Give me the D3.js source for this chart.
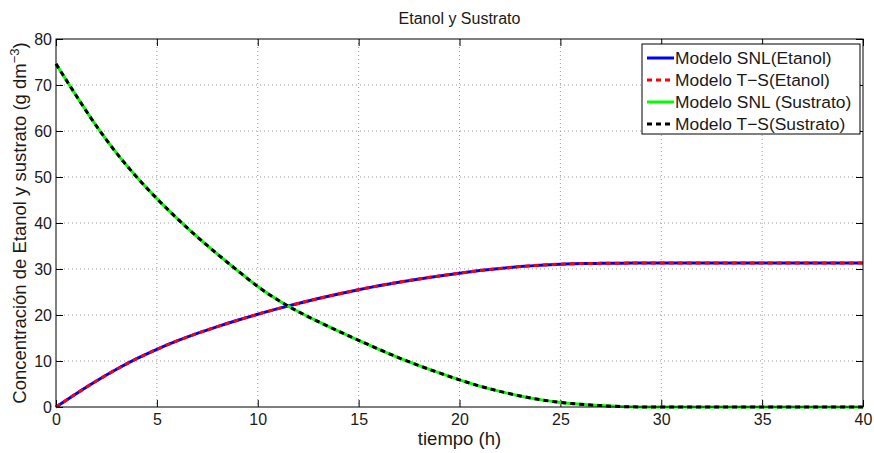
<!DOCTYPE html>
<html>
<head>
<meta charset="utf-8">
<script src="https://cdn.jsdelivr.net/npm/d3@7"></script>
<style>
  body { margin: 0; background: #fff; }
  svg { font-family: "Liberation Sans", Arial, sans-serif; }
  .tick-label { font-size: 16px; fill: #1a1a1a; }
  .axis-title { font-size: 18.5px; fill: #1a1a1a; }
  .chart-title { font-size: 16px; fill: #1a1a1a; }
  .legend-text { font-size: 17.4px; fill: #1a1a1a; }
</style>
</head>
<body>
<svg id="chart"></svg>
<script>
// tiempo (h)
const tiempo = [0, 1, 2, 3, 4, 5, 6, 7, 8, 9, 10, 11, 12, 13, 14, 15, 16, 17, 18, 19, 20,
  21, 22, 23, 24, 25, 26, 27, 28, 29, 30, 35, 40];

const etanolSNL = [0, 2.9, 5.65, 8.2, 10.5, 12.55, 14.37, 16.0, 17.48, 18.86, 20.16, 21.38,
  22.51, 23.57, 24.56, 25.5, 26.36, 27.13, 27.84, 28.49, 29.1, 29.65, 30.12, 30.52, 30.84,
  31.05, 31.17, 31.23, 31.27, 31.29, 31.3, 31.3, 31.3];
const etanolTS = [0, 2.9, 5.65, 8.2, 10.5, 12.55, 14.37, 16.0, 17.48, 18.86, 20.16, 21.38,
  22.51, 23.57, 24.56, 25.5, 26.36, 27.13, 27.84, 28.49, 29.1, 29.65, 30.12, 30.52, 30.84,
  31.05, 31.17, 31.23, 31.27, 31.29, 31.3, 31.3, 31.3];

const sustratoSNL = [74.6, 67.7, 61.1, 55.2, 50.0, 45.3, 41.0, 37.0, 33.25, 29.65, 26.2, 23.25,
  20.75, 18.55, 16.5, 14.5, 12.55, 10.7, 9.0, 7.4, 5.9, 4.55, 3.4, 2.4, 1.6, 1.0, 0.6, 0.3,
  0.1, 0.02, 0, 0, 0];
const sustratoTS = [74.6, 67.7, 61.1, 55.2, 50.0, 45.3, 41.0, 37.0, 33.25, 29.65, 26.2, 23.25,
  20.75, 18.55, 16.5, 14.5, 12.55, 10.7, 9.0, 7.4, 5.9, 4.55, 3.4, 2.4, 1.6, 1.0, 0.6, 0.3,
  0.1, 0.02, 0, 0, 0];

const xTicks = [0, 5, 10, 15, 20, 25, 30, 35, 40];
const yTicks = [0, 10, 20, 30, 40, 50, 60, 70, 80];

const seriesNames = ['Modelo SNL(Etanol)', 'Modelo T\u2212S(Etanol)', 'Modelo SNL (Sustrato)', 'Modelo T\u2212S(Sustrato)'];
const seriesColors = ['#0000ff', '#ff0000', '#00ff00', '#000000'];
const seriesDashed = [false, true, false, true];
const seriesValues = [etanolSNL, etanolTS, sustratoSNL, sustratoTS];

const width = 874, height = 453;
const margin = {top: 39, right: 11, bottom: 46, left: 56};
const w = width - margin.left - margin.right;
const h = height - margin.top - margin.bottom;

const svg = d3.select('#chart')
  .attr('width', width)
  .attr('height', height);

const chart = svg.append('g')
  .attr('transform', `translate(${margin.left},${margin.top})`);

const xScale = d3.scaleLinear().domain([0, 40]).range([0, w]);
const yScale = d3.scaleLinear().domain([0, 80]).range([h, 0]);

// grid
chart.append('g')
  .selectAll('line')
  .data(xTicks.slice(1, -1))
  .join('line')
  .attr('x1', d => xScale(d)).attr('x2', d => xScale(d))
  .attr('y1', 0).attr('y2', h)
  .attr('stroke', '#9a9a9a').attr('stroke-width', 1)
  .attr('stroke-dasharray', '1,3');

chart.append('g')
  .selectAll('line')
  .data(yTicks.slice(1, -1))
  .join('line')
  .attr('x1', 0).attr('x2', w)
  .attr('y1', d => yScale(d)).attr('y2', d => yScale(d))
  .attr('stroke', '#9a9a9a').attr('stroke-width', 1)
  .attr('stroke-dasharray', '1,3');

// axes (MATLAB style: ticks inside, mirrored)
const tickLen = 7;
const xAxis = d3.axisBottom(xScale).tickValues(xTicks).tickSize(-tickLen).tickPadding(7).tickSizeOuter(0);
const yAxis = d3.axisLeft(yScale).tickValues(yTicks).tickSize(-tickLen).tickPadding(4).tickSizeOuter(0);
const xAxisTop = d3.axisTop(xScale).tickValues(xTicks).tickSize(-tickLen).tickFormat('').tickSizeOuter(0);
const yAxisRight = d3.axisRight(yScale).tickValues(yTicks).tickSize(-tickLen).tickFormat('').tickSizeOuter(0);

function styleAxis(g) {
  g.select('.domain').remove();
  g.selectAll('.tick line').attr('stroke', '#000');
  g.selectAll('.tick text').attr('class', 'tick-label').attr('fill', '#1a1a1a');
}

chart.append('g').attr('transform', `translate(0,${h})`).call(xAxis).call(styleAxis);
chart.append('g').call(yAxis).call(styleAxis);
chart.append('g').call(xAxisTop).call(styleAxis);
chart.append('g').attr('transform', `translate(${w},0)`).call(yAxisRight).call(styleAxis);

// curves
const line = d3.line()
  .x(d => xScale(d[0]))
  .y(d => yScale(d[1]))
  .curve(d3.curveMonotoneX);

seriesValues.forEach((vals, i) => {
  chart.append('path')
    .datum(tiempo.map((t, j) => [t, vals[j]]))
    .attr('fill', 'none')
    .attr('stroke', seriesColors[i])
    .attr('stroke-width', 3)
    .attr('stroke-dasharray', seriesDashed[i] ? '5,4' : null)
    .attr('d', line);
});

// box
chart.append('rect')
  .attr('x', 0).attr('y', 0).attr('width', w).attr('height', h)
  .attr('fill', 'none').attr('stroke', '#000').attr('stroke-width', 1);

// titles
svg.append('text')
  .attr('class', 'chart-title')
  .attr('x', margin.left + w / 2)
  .attr('y', 24)
  .attr('text-anchor', 'middle')
  .text('Etanol y Sustrato');

svg.append('text')
  .attr('class', 'axis-title')
  .attr('x', margin.left + w / 2)
  .attr('y', 445)
  .attr('text-anchor', 'middle')
  .text('tiempo (h)');

const yLabel = svg.append('text')
  .attr('class', 'axis-title')
  .attr('transform', `translate(26,${margin.top + h / 2}) rotate(-90)`)
  .attr('text-anchor', 'middle');
yLabel.append('tspan').text('Concentración de Etanol y sustrato (g dm');
yLabel.append('tspan').attr('dy', -7).attr('font-size', 13).text('\u22123');
yLabel.append('tspan').attr('dy', 7).text(')');

// legend
const legend = svg.append('g').attr('transform', 'translate(642,44)');
legend.append('rect')
  .attr('width', 218).attr('height', 90)
  .attr('fill', '#fff').attr('stroke', '#000').attr('stroke-width', 1);

seriesNames.forEach((name, i) => {
  const yy = 14 + i * 22;
  legend.append('line')
    .attr('x1', 5).attr('x2', 32)
    .attr('y1', yy).attr('y2', yy)
    .attr('stroke', seriesColors[i])
    .attr('stroke-width', 3)
    .attr('stroke-dasharray', seriesDashed[i] ? '5,4' : null);
  legend.append('text')
    .attr('class', 'legend-text')
    .attr('x', 33)
    .attr('y', yy + 6)
    .text(name);
});
</script>
</body>
</html>
